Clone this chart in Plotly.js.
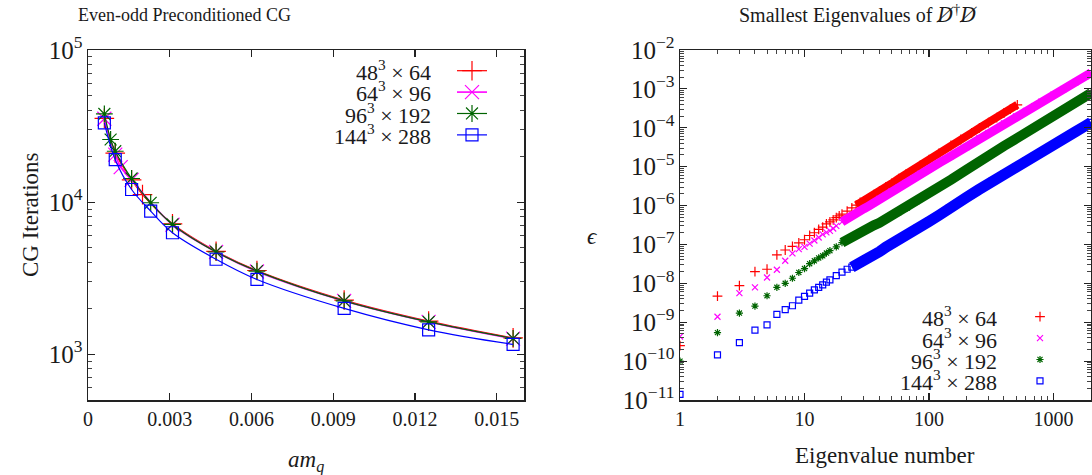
<!DOCTYPE html>
<html>
<head>
<meta charset="utf-8">
<script src="https://cdn.plot.ly/plotly-3.0.1.min.js"></script>
<style>html,body{margin:0;padding:0;background:#fff}#chart{width:1092px;height:475px}</style>
</head>
<body>
<div id="chart"></div>
<script>
// ---------- Left panel: CG iterations vs am_q ----------
const seriesNames = ['48<sup>3</sup> × 64', '64<sup>3</sup> × 96', '96<sup>3</sup> × 192', '144<sup>3</sup> × 288'];
const seriesColors = ['#ff0000', '#ff00ff', '#006400', '#0000ff'];

const amq48  = [0.0006, 0.001, 0.0016, 0.002, 0.0031, 0.0047, 0.0062, 0.0094, 0.0125, 0.0156];
const cg48   = [35500, 21000, 14000, 11200, 7200, 4750, 3550, 2270, 1650, 1280];
const amq64  = [0.0006, 0.001, 0.0012, 0.0016, 0.0031, 0.0047, 0.0062, 0.0094, 0.0125, 0.0156];
const cg64   = [35300, 20500, 17000, 14000, 7100, 4700, 3500, 2240, 1630, 1265];
const amq96  = [0.0006, 0.00083, 0.001, 0.0016, 0.0023, 0.0031, 0.0047, 0.0062, 0.0094, 0.0125, 0.0156];
const cg96   = [38000, 25800, 21600, 14300, 9900, 7130, 4700, 3520, 2240, 1630, 1270];
const amq144 = [0.0006, 0.001, 0.0016, 0.0023, 0.0031, 0.0047, 0.0062, 0.0094, 0.0125, 0.0156];
const cg144  = [33200, 19000, 12100, 8730, 6290, 4210, 3100, 2000, 1447, 1160];

// ---------- Right panel: smallest eigenvalues ----------
const n48   = [1,2,3,4,5,6,7,8,9,10,11,12,13,14,15,16,17,18,19,20,22,24,26,28,30,33,36,40,45,50,57,65,75,85,100,120,150,180,220,254,300,350,400,450,512];
const eps48 = [2.5e-10,4.7e-9,8.7e-9,2.0e-8,2.3e-8,5.4e-8,7.2e-8,8.9e-8,1.10e-7,1.32e-7,1.70e-7,2.0e-7,2.45e-7,2.8e-7,3.4e-7,3.8e-7,4.3e-7,4.9e-7,5.4e-7,6.0e-7,7.2e-7,8.7e-7,1.02e-6,1.20e-6,1.32e-6,1.58e-6,1.90e-6,2.35e-6,3.0e-6,3.7e-6,4.9e-6,6.3e-6,8.3e-6,1.07e-5,1.51e-5,2.2e-5,3.5e-5,5.0e-5,7.4e-5,1.0e-4,1.35e-4,1.82e-4,2.4e-4,3.0e-4,3.9e-4];

const n64   = [1,2,3,4,5,6,7,8,9,10,11,12,13,14,15,16,17,18,20,22,24,26,28,30,33,36,40,45,50,57,65,75,85,100,120,150,200,254,300,400,500,600,700,800,1000,1200,1500,1800,2000];
const eps64 = [4.3e-10,1.38e-9,5.6e-9,7.9e-9,1.41e-8,2.24e-8,3.8e-8,5.9e-8,7.6e-8,8.7e-8,1.05e-7,1.26e-7,1.51e-7,1.82e-7,2.04e-7,2.24e-7,2.57e-7,3.0e-7,3.8e-7,4.7e-7,5.5e-7,6.5e-7,7.4e-7,8.3e-7,9.8e-7,1.17e-6,1.48e-6,1.86e-6,2.3e-6,2.9e-6,3.8e-6,5.0e-6,6.5e-6,8.7e-6,1.23e-5,1.86e-5,3.2e-5,5.5e-5,7.4e-5,1.29e-4,1.95e-4,2.7e-4,3.6e-4,4.7e-4,7.1e-4,9.8e-4,1.48e-3,2.1e-3,2.6e-3];

const n96   = [1,2,3,4,5,6,7,8,9,10,11,12,13,14,15,16,18,20,22,24,26,28,30,33,36,40,45,50,57,67,80,100,120,150,200,280,350,400,500,600,700,800,1000,1200,1500,1800,2000];
const eps96 = [1.0e-10,5.4e-10,1.72e-9,2.6e-9,4.8e-9,7.9e-9,1.0e-8,1.35e-8,1.9e-8,2.4e-8,3.2e-8,3.8e-8,4.5e-8,5.1e-8,6.0e-8,6.9e-8,8.7e-8,1.12e-7,1.35e-7,1.58e-7,1.82e-7,2.1e-7,2.3e-7,2.7e-7,3.1e-7,3.6e-7,4.5e-7,5.4e-7,6.5e-7,8.7e-7,1.26e-6,2.0e-6,2.9e-6,4.6e-6,8.3e-6,1.74e-5,2.6e-5,3.4e-5,5.2e-5,7.4e-5,1.0e-4,1.29e-4,1.95e-4,2.75e-4,4.3e-4,6.0e-4,7.8e-4];

const n144   = [1,2,3,4,5,6,7,8,9,10,11,12,13,14,15,16,18,20,22,24,26,28,31,35,40,45,50,57,70,80,100,120,146,200,250,320,400,500,600,700,800,1000,1200,1500,1800,2000];
const eps144 = [1.4e-11,1.44e-10,3.0e-10,6.3e-10,8.5e-10,1.6e-9,2.1e-9,2.65e-9,3.7e-9,4.6e-9,5.6e-9,6.8e-9,7.9e-9,9.1e-9,1.07e-8,1.23e-8,1.58e-8,1.95e-8,2.3e-8,2.6e-8,2.95e-8,3.4e-8,4.3e-8,5.1e-8,6.5e-8,8.5e-8,1.02e-7,1.35e-7,2.0e-7,2.6e-7,3.9e-7,5.6e-7,8.9e-7,1.62e-6,2.55e-6,4.2e-6,6.4e-6,9.8e-6,1.39e-5,1.85e-5,2.4e-5,3.6e-5,5.2e-5,7.9e-5,1.12e-4,1.38e-4];

const bandStart = [26, 20, 20, 24];   // eigenvalue number from which the points merge into a band

// ---------- styling ----------
const FONT = 'Liberation Serif';
const TXT = '#1a1a1a';
const W = 1092, H = 475;
const px = x => x / W;
const py = y => 1 - y / H;

const leftX = [amq48, amq64, amq96, amq144];
const leftY = [cg48, cg64, cg96, cg144];
const leftSym = ['cross-thin', 'x-thin', 'asterisk-open', 'square-open'];
const leftSize = [14, 14, 14, 12];
const leftLW = [1.2, 1.6, 1.2, 1.2];

const rightX = [n48, n64, n96, n144];
const rightY = [eps48, eps64, eps96, eps144];
const rightSym = ['cross-thin', 'x-thin', 'asterisk-open', 'square-open'];
const rightSize = [7, 6, 6, 6];
const bandW = [8, 9, 10, 11];

const traces = [];
for (let i = 0; i < 4; i++) {
  traces.push({
    x: leftX[i], y: leftY[i], xaxis: 'x', yaxis: 'y',
    type: 'scatter', mode: 'lines+markers', name: ' ',
    legend: 'legend', legendrank: i,
    line: {color: seriesColors[i], width: leftLW[i], shape: 'spline', smoothing: 1},
    marker: {symbol: leftSym[i], size: leftSize[i], color: seriesColors[i],
             line: {color: seriesColors[i], width: 1.2}}
  });
}
for (let i = 0; i < 4; i++) {
  const xs = [], ys = [];
  rightX[i].forEach((v, k) => { if (v >= bandStart[i]) { xs.push(v); ys.push(rightY[i][k]); } });
  traces.push({
    x: xs, y: ys, xaxis: 'x2', yaxis: 'y2', type: 'scatter', mode: 'lines',
    showlegend: false, hoverinfo: 'skip',
    line: {color: seriesColors[i], width: bandW[i]}
  });
  traces.push({
    x: rightX[i], y: rightY[i], xaxis: 'x2', yaxis: 'y2',
    type: 'scatter', mode: 'markers', name: ' ',
    legend: 'legend2', legendrank: i,
    marker: {symbol: rightSym[i], size: rightSize[i], color: seriesColors[i],
             line: {color: seriesColors[i], width: 1.2}}
  });
}

const axisCommon = {
  showline: true, linecolor: '#222', linewidth: 1.5, mirror: 'allticks',
  ticks: 'inside', ticklen: 7, tickwidth: 1.2, tickcolor: '#222',
  showgrid: false, zeroline: false,
  tickfont: {family: FONT, size: 20, color: TXT}
};
const minorLog = {ticks: 'inside', ticklen: 4, tickwidth: 1, tickcolor: '#444', showgrid: false};

const DSLASH = '<span style="font-family:\'DejaVu Serif\'"><i>D̸</i></span>';
const annotations = [
  {text: 'Even-odd Preconditioned CG', x: px(184), y: py(15), size: 18},
  {text: 'Smallest Eigenvalues of ' + DSLASH + '<sup>†</sup>' + DSLASH, x: px(858), y: py(15), size: 20},
  {text: '<i>am</i><sub><i>q</i></sub>', x: px(306), y: py(461), size: 23},
  {text: 'Eigenvalue number', x: px(885), y: py(455), size: 23},
  {text: 'CG Iterations', x: px(30), y: py(215), textangle: -90, size: 23},
  {text: '<i>ϵ</i>', x: px(592), y: py(237), size: 23}
].map(a => {
  const o = Object.assign({xref: 'paper', yref: 'paper', showarrow: false,
    xanchor: 'center', yanchor: 'middle', font: {family: FONT, size: a.size, color: TXT}}, a);
  delete o.size;
  return o;
});

const legRowsL = [70.7, 91.9, 113.2, 134.5];
const legRowsR = [316.7, 338.0, 359.3, 380.6];
for (let i = 0; i < 4; i++) {
  annotations.push({text: seriesNames[i], xref: 'paper', yref: 'paper', showarrow: false,
    x: px(433), y: py(legRowsL[i]), xanchor: 'right', yanchor: 'middle', height: 21, valign: 'middle',
    font: {family: FONT, size: 22, color: TXT}});
  annotations.push({text: seriesNames[i], xref: 'paper', yref: 'paper', showarrow: false,
    x: px(999), y: py(legRowsR[i]), xanchor: 'right', yanchor: 'middle', height: 21, valign: 'middle',
    font: {family: FONT, size: 22, color: TXT}});
}

const layout = {
  width: W, height: H,
  margin: {l: 0, r: 0, t: 0, b: 0},
  paper_bgcolor: '#fff', plot_bgcolor: '#fff',
  font: {family: FONT, color: TXT},
  xaxis: Object.assign({}, axisCommon, {
    domain: [px(88), px(524)], range: [0, 0.016], tick0: 0, dtick: 0.003, anchor: 'y'
  }),
  yaxis: Object.assign({}, axisCommon, {
    domain: [py(400), py(50)], type: 'log', range: [Math.log10(500), 5], dtick: 1,
    exponentformat: 'power', minor: minorLog, anchor: 'x'
  }),
  xaxis2: Object.assign({}, axisCommon, {
    domain: [px(680), px(1091)], type: 'log', range: [0, Math.log10(2000)], dtick: 1,
    exponentformat: 'none', separatethousands: false, minor: minorLog, anchor: 'y2'
  }),
  yaxis2: Object.assign({}, axisCommon, {
    domain: [py(400), py(50)], type: 'log', range: [-11, -2], dtick: 1,
    exponentformat: 'power', minor: minorLog, anchor: 'x2'
  }),
  legend: {x: px(452), y: py(55), xanchor: 'left', yanchor: 'top', bgcolor: 'rgba(0,0,0,0)',
           font: {size: 14.15, family: FONT}, itemclick: false, tracegroupgap: 0},
  legend2: {x: px(1020), y: py(301), xanchor: 'left', yanchor: 'top', bgcolor: 'rgba(0,0,0,0)',
           font: {size: 14.15, family: FONT}, itemclick: false, tracegroupgap: 0},
  annotations: annotations,
  showlegend: true
};

Plotly.newPlot('chart', traces, layout, {displayModeBar: false, staticPlot: true});
</script>
</body>
</html>
